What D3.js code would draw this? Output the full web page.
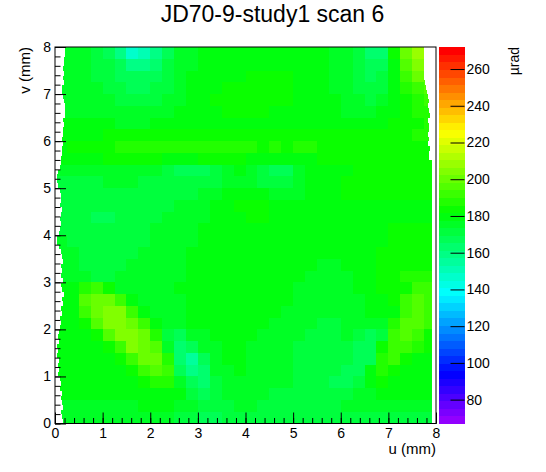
<!DOCTYPE html>
<html>
<head>
<meta charset="utf-8">
<script src="https://cdn.jsdelivr.net/npm/d3@7"></script>
<style>
  body { margin: 0; background: #fff; }
  text { font-family: "Liberation Sans", Arial, Helvetica, sans-serif; }
</style>
</head>
<body>
<div id="chart"></div>
<script>
// scan map values (urad), 0.25 mm cells, rows from v=8 (top) down to v=0
const uBins = [0, 0.25, 0.5, 0.75, 1, 1.25, 1.5, 1.75, 2, 2.25, 2.5, 2.75, 3, 3.25, 3.5, 3.75,
               4, 4.25, 4.5, 4.75, 5, 5.25, 5.5, 5.75, 6, 6.25, 6.5, 6.75, 7, 7.25, 7.5, 7.75];
const vBins = [7.75, 7.5, 7.25, 7, 6.75, 6.5, 6.25, 6, 5.75, 5.5, 5.25, 5, 4.75, 4.5, 4.25, 4,
               3.75, 3.5, 3.25, 3, 2.75, 2.5, 2.25, 2, 1.75, 1.5, 1.25, 1, 0.75, 0.5, 0.25, 0];
const cellSize = 0.25;
const mapValues = [
  [176,176,174,172, 168,160,146,150, 160,168,174,177, 178,178,179,179, 180,180,180,180, 180,179,178,176, 174,170,165,165, 182,200,210,205],
  [176,176,174,172, 170,166,160,160, 164,170,175,177, 178,179,179,180, 181,181,181,181, 181,180,178,176, 174,170,166,168, 180,196,206,202],
  [176,176,174,173, 172,169,166,166, 168,172,176,178, 179,180,180,181, 182,182,182,182, 181,180,179,177, 174,171,168,170, 180,190,200,198],
  [176,176,175,174, 173,171,169,169, 170,173,176,179, 180,181,182,182, 183,183,182,182, 181,180,179,177, 175,172,170,172, 180,186,194,196],
  [177,176,176,175, 174,173,172,172, 173,175,177,179, 181,182,182,183, 183,183,182,182, 181,180,179,178, 176,174,173,175, 180,184,188,190],
  [177,177,176,176, 175,174,174,174, 175,176,178,179, 181,181,182,182, 182,182,181,181, 181,180,179,178, 177,176,176,178, 181,184,186,188],
  [178,178,178,178, 178,177,177,177, 178,178,179,179, 180,180,180,180, 180,180,180,180, 180,180,180,180, 179,179,179,180, 182,184,185,186],
  [179,180,181,181, 182,182,183,182, 183,184,183,182, 183,184,183,183, 183,183,183,184, 184,184,184,184, 183,183,183,184, 184,185,186,186],
  [180,182,183,184, 185,186,187,186, 187,188,187,186, 188,189,187,186, 186,185,186,185, 186,187,185,184, 184,184,185,184, 184,185,185,185],
  [178,179,180,181, 182,182,182,182, 182,181,181,181, 182,182,182,182, 181,180,179,179, 180,181,182,182, 182,182,182,182, 183,183,183,183],
  [174,174,174,175, 176,176,176,175, 174,172,169,168, 169,172,176,178, 176,171,168,169, 174,178,180,181, 181,182,183,184, 184,184,184,184],
  [172,172,172,173, 174,174,174,173, 172,171,170,170, 171,173,176,177, 175,172,170,171, 174,178,180,181, 182,183,184,184, 184,184,183,183],
  [171,171,171,172, 172,172,172,172, 172,172,172,173, 174,176,178,180, 180,178,176,176, 177,178,180,181, 182,182,182,182, 182,182,182,182],
  [171,171,170,170, 171,171,172,172, 173,173,174,175, 176,178,180,182, 183,182,180,179, 179,179,180,181, 181,181,181,181, 181,181,181,181],
  [172,171,170,169, 169,170,171,172, 173,174,175,176, 177,178,180,181, 182,182,181,180, 180,180,180,180, 180,180,180,180, 180,181,181,181],
  [173,172,171,170, 170,171,172,173, 174,175,176,177, 178,179,180,181, 181,181,181,181, 181,181,181,181, 181,181,181,181, 182,182,182,182],
  [174,173,171,170, 170,171,172,173, 174,175,176,177, 178,179,180,180, 181,181,181,181, 181,181,180,180, 180,180,181,181, 182,183,183,183],
  [175,174,172,171, 171,172,173,174, 175,176,177,178, 178,179,180,180, 181,181,181,181, 180,180,179,179, 179,180,181,182, 183,184,184,184],
  [176,175,173,172, 172,173,174,175, 176,176,177,178, 178,179,179,180, 180,180,180,180, 179,178,177,177, 178,179,181,182, 184,185,185,185],
  [177,176,174,173, 173,174,175,176, 176,177,177,178, 178,178,179,179, 179,179,179,179, 178,177,176,176, 177,178,180,182, 184,186,187,186],
  [178,178,188,190, 182,176,176,177, 177,177,178,178, 178,178,179,179, 179,179,179,178, 177,176,176,176, 177,178,180,182, 183,185,192,190],
  [178,178,196,200, 200,192,178,176, 176,177,177,178, 178,178,178,179, 179,179,178,178, 177,176,175,175, 176,177,179,181, 182,190,196,192],
  [178,178,194,202, 206,204,194,180, 176,176,177,178, 178,178,178,178, 179,179,178,177, 176,175,174,174, 175,176,178,179, 180,194,197,192],
  [178,178,182,196, 204,206,202,190, 178,174,176,178, 178,178,178,178, 178,178,177,176, 175,174,173,173, 174,176,176,174, 186,196,197,190],
  [178,178,178,184, 196,204,205,200, 188,172,168,174, 177,178,178,178, 178,177,176,175, 174,173,172,172, 174,172,168,171, 192,195,190,184],
  [178,178,178,179, 182,194,203,202, 196,176,162,166, 174,177,178,178, 177,176,175,174, 173,172,171,170, 172,168,167,184, 193,190,186,182],
  [178,178,178,178, 179,182,192,200, 200,188,164,157, 168,176,178,178, 177,176,175,174, 173,172,172,172, 171,166,167,188, 191,184,181,180],
  [178,178,178,178, 178,179,182,190, 197,192,168,158, 164,174,177,178, 177,176,175,174, 173,172,171,170, 167,166,180,188, 185,181,179,179],
  [178,178,178,178, 178,178,179,182, 186,188,177,166, 162,170,176,177, 176,175,174,174, 173,172,171,168, 166,172,180,183, 181,179,178,178],
  [178,178,178,178, 178,178,178,179, 180,180,178,171, 167,171,175,176, 175,174,173,173, 172,171,170,171, 173,175,177,178, 178,178,178,178],
  [177,177,177,177, 177,177,177,178, 178,178,177,174, 170,170,173,174, 174,173,173,173, 172,172,172,173, 174,175,176,176, 176,176,176,176],
  [175,175,174,174, 174,174,174,174, 174,174,173,171, 168,168,170,171, 171,171,171,171, 171,171,171,171, 172,172,173,173, 173,173,173,173]
];

// scanned area limits (u in mm) per 0.1 mm slice in v, from v=8 down
const edgeStep = 0.1;
const leftEdge = [
  0.21,0.20,0.18,0.19,0.17,0.19,0.16,0.18,0.15,0.14,
  0.16,0.18,0.21,0.20,0.22,0.17,0.19,0.16,0.17,0.15,
  0.16,0.14,0.15,0.12,0.13,0.10,0.07,0.05,0.04,0.06,
  0.10,0.12,0.13,0.11,0.14,0.12,0.10,0.13,0.11,0.08,
  0.05,0.04,0.08,0.12,0.14,0.17,0.13,0.15,0.12,0.16,
  0.13,0.15,0.18,0.14,0.16,0.12,0.15,0.11,0.13,0.10,
  0.08,0.06,0.09,0.05,0.07,0.04,0.08,0.06,0.09,0.07,
  0.10,0.13,0.11,0.15,0.12,0.14,0.16,0.13,0.15,0.17
];
const rightEdge = [
  7.74,7.74,7.75,7.74,7.75,7.74,7.75,7.76,7.79,7.82,
  7.84,7.86,7.83,7.85,7.87,7.84,7.86,7.85,7.83,7.86,
  7.84,7.87,7.85,7.86,7.92,7.92,7.92,7.92,7.92,7.92,
  7.92,7.92,7.92,7.92,7.92,7.92,7.92,7.92,7.92,7.92,
  7.92,7.92,7.92,7.92,7.92,7.92,7.92,7.92,7.92,7.92,
  7.92,7.92,7.92,7.92,7.92,7.92,7.92,7.92,7.92,7.92,
  7.92,7.92,7.92,7.92,7.92,7.92,7.92,7.92,7.92,7.92,
  7.92,7.92,7.92,7.92,7.92,7.92,7.92,7.92,7.92,7.92
];

const xTicks = [0, 1, 2, 3, 4, 5, 6, 7, 8];
const yTicks = [0, 1, 2, 3, 4, 5, 6, 7, 8];
const zTicks = [80, 100, 120, 140, 160, 180, 200, 220, 240, 260];
const zMin = 67, zMax = 272, nContours = 50;

const width = 546, height = 472;
const frame = {left: 55, right: 436, top: 47, bottom: 423.5};
const bar = {left: 439, right: 464.5};

const svg = d3.select("#chart")
  .append("svg")
  .attr("width", width)
  .attr("height", height)
  .style("display", "block");

svg.append("rect").attr("width", width).attr("height", height).attr("fill", "#fff");

const x = d3.scaleLinear().domain([0, 8]).range([frame.left, frame.right]);
const y = d3.scaleLinear().domain([0, 8]).range([frame.bottom, frame.top]);
const z = d3.scaleLinear().domain([zMin, zMax]).range([frame.bottom, frame.top]);

// ROOT "pretty" palette: 50 HLS hues from violet to red
function bandIndex(v) {
  let k = Math.floor((v - zMin) / (zMax - zMin) * nContours);
  return Math.max(0, Math.min(nContours - 1, k));
}
function bandColor(k) {
  if (k === nContours - 1) return "#ff0000";
  return d3.hsl(280 - (k + 1) * (280 / nContours), 1, 0.5).formatHex();
}

// map cells
const cells = [];
mapValues.forEach((row, j) => {
  row.forEach((val, i) => cells.push({u: uBins[i], v: vBins[j], val: val}));
});

svg.append("g")
  .selectAll("rect")
  .data(cells)
  .join("rect")
  .attr("x", d => x(d.u))
  .attr("y", d => y(d.v + cellSize))
  .attr("width", d => x(d.u + cellSize) - x(d.u) + 0.4)
  .attr("height", d => y(d.v) - y(d.v + cellSize) + 0.4)
  .attr("fill", d => bandColor(bandIndex(d.val)))
  .attr("shape-rendering", "crispEdges");

// blank outside the scanned area
const masks = svg.append("g").attr("fill", "#fff").attr("shape-rendering", "crispEdges");
masks.selectAll(".lm")
  .data(leftEdge)
  .join("rect")
  .attr("class", "lm")
  .attr("x", x(0))
  .attr("y", (d, i) => y(8 - i * edgeStep))
  .attr("width", d => x(d) - x(0))
  .attr("height", (d, i) => y(8 - (i + 1) * edgeStep) - y(8 - i * edgeStep) + 0.3);
masks.selectAll(".rm")
  .data(rightEdge)
  .join("rect")
  .attr("class", "rm")
  .attr("x", d => x(d))
  .attr("y", (d, i) => y(8 - i * edgeStep))
  .attr("width", d => x(8) - x(d) + 0.5)
  .attr("height", (d, i) => y(8 - (i + 1) * edgeStep) - y(8 - i * edgeStep) + 0.3);

// frame
svg.append("rect")
  .attr("x", frame.left)
  .attr("y", frame.top)
  .attr("width", frame.right - frame.left)
  .attr("height", frame.bottom - frame.top)
  .attr("fill", "none")
  .attr("stroke", "#000")
  .attr("stroke-width", 1);

// x axis
const minorX = d3.range(0, 8.001, 0.2);
svg.append("g")
  .attr("transform", `translate(0, ${frame.bottom})`)
  .call(d3.axisBottom(x).tickValues(minorX).tickSize(-5.5).tickSizeOuter(0).tickFormat(""))
  .call(g => g.select(".domain").remove());
svg.append("g")
  .attr("transform", `translate(0, ${frame.bottom})`)
  .call(d3.axisBottom(x).tickValues(xTicks).tickSize(-11).tickSizeOuter(0).tickPadding(5).tickFormat(d3.format("d")))
  .call(g => g.select(".domain").remove())
  .call(g => g.selectAll("text").attr("font-size", 14).attr("fill", "#000"));

// y axis
const minorY = d3.range(0, 8.001, 0.2);
svg.append("g")
  .attr("transform", `translate(${frame.left}, 0)`)
  .call(d3.axisLeft(y).tickValues(minorY).tickSize(-5.5).tickSizeOuter(0).tickFormat(""))
  .call(g => g.select(".domain").remove());
svg.append("g")
  .attr("transform", `translate(${frame.left}, 0)`)
  .call(d3.axisLeft(y).tickValues(yTicks).tickSize(-11).tickSizeOuter(0).tickPadding(4).tickFormat(d3.format("d")))
  .call(g => g.select(".domain").remove())
  .call(g => g.selectAll("text").attr("font-size", 14).attr("fill", "#000"));

// palette
const bands = d3.range(nContours);
svg.append("g")
  .selectAll("rect")
  .data(bands)
  .join("rect")
  .attr("x", bar.left)
  .attr("y", k => z(zMin + (k + 1) * (zMax - zMin) / nContours))
  .attr("width", bar.right - bar.left)
  .attr("height", k => z(zMin + k * (zMax - zMin) / nContours) - z(zMin + (k + 1) * (zMax - zMin) / nContours) + 0.4)
  .attr("fill", k => bandColor(k))
  .attr("shape-rendering", "crispEdges");

svg.append("g")
  .attr("transform", `translate(${bar.right}, 0)`)
  .call(d3.axisRight(z).tickValues(zTicks).tickSize(-14).tickSizeOuter(0).tickPadding(2))
  .call(g => g.select(".domain").remove())
  .call(g => g.selectAll("text").attr("font-size", 14).attr("fill", "#000"));

// titles
svg.append("text")
  .attr("x", 272.5)
  .attr("y", 22)
  .attr("text-anchor", "middle")
  .attr("font-size", 23)
  .text("JD70-9-study1 scan 6");

svg.append("text")
  .attr("x", frame.right)
  .attr("y", 454)
  .attr("text-anchor", "end")
  .attr("font-size", 15)
  .text("u (mm)");

svg.append("text")
  .attr("transform", `translate(30, ${frame.top}) rotate(-90)`)
  .attr("text-anchor", "end")
  .attr("font-size", 15)
  .text("v (mm)");

svg.append("text")
  .attr("transform", `translate(519, ${frame.top}) rotate(-90)`)
  .attr("text-anchor", "end")
  .attr("font-size", 14)
  .text("µrad");
</script>
</body>
</html>
